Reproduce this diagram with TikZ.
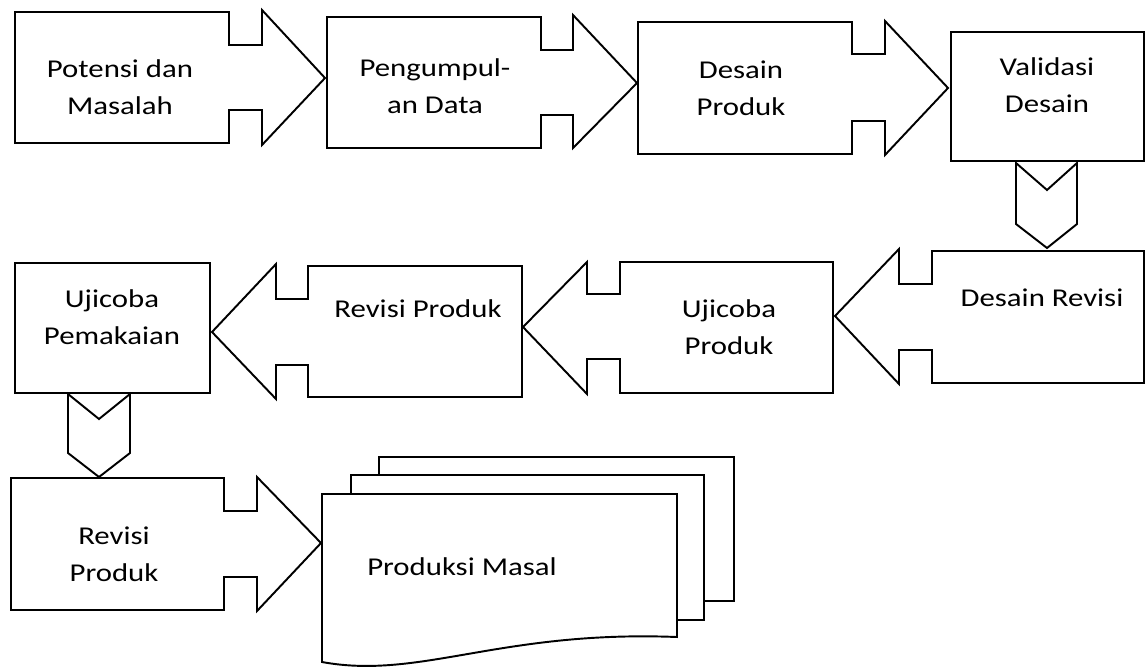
\documentclass[tikz,border=0pt]{standalone}
\usepackage{fontspec}
\setmainfont{Carlito}[FakeStretch=1.2]
\usepackage{tikz}

\tikzset{
  blk/.style={draw, line width=1.1pt, fill=white, line join=miter},
  lbl/.style={font=\fontsize{14.6}{21}\selectfont, align=center, inner sep=0pt}
}

\begin{document}
\begin{tikzpicture}[x=0.02cm, y=-0.02cm]
    \useasboundingbox (0,0) rectangle (1145,670);

    % top row
    \draw[blk] (15,12) -- (229,12) -- (229,45) -- (262,45) -- (262,10) -- (325,78)
        -- (262,145) -- (262,110) -- (229,110) -- (229,143) -- (15,143) -- cycle;
    \draw[blk] (327,17) -- (541,17) -- (541,50) -- (573,50) -- (573,15) -- (637,83)
        -- (573,148) -- (573,115) -- (541,115) -- (541,148) -- (327,148) -- cycle;
    \draw[blk] (638,22) -- (852,22) -- (852,54) -- (885,54) -- (885,21) -- (948,88)
        -- (885,155) -- (885,121) -- (852,121) -- (852,154) -- (638,154) -- cycle;
    \draw[blk] (951,32) rectangle (1144,161);

    \draw[blk] (1016,163) -- (1047,190) -- (1077,163) -- (1077,224) -- (1047,248) -- (1016,224) -- cycle;

    % middle row
    \draw[blk] (1144,251) -- (932,251) -- (932,284) -- (899,284) -- (899,249) -- (835,316)
        -- (899,384) -- (899,350) -- (932,350) -- (932,383) -- (1144,383) -- cycle;
    \draw[blk] (833,262) -- (620,262) -- (620,294) -- (587,294) -- (587,262) -- (523,327)
        -- (587,394) -- (587,359) -- (620,359) -- (620,393) -- (833,393) -- cycle;
    \draw[blk] (522,266) -- (308,266) -- (308,299) -- (276,299) -- (276,264) -- (212,332)
        -- (276,399) -- (276,365) -- (308,365) -- (308,397) -- (522,397) -- cycle;
    \draw[blk] (15,263) rectangle (210,393);

    \draw[blk] (68,394) -- (99,419) -- (130,394) -- (130,453) -- (99,477) -- (68,453) -- cycle;

    % bottom row
    \draw[blk] (11,478) -- (224,478) -- (224,511) -- (257,511) -- (257,477) -- (321,543)
        -- (257,611) -- (257,577) -- (224,577) -- (224,610) -- (11,610) -- cycle;
    \draw[blk] (379,457) rectangle (734,601);
    \draw[blk] (351,475) rectangle (704,620);
    \draw[blk] (322,494) -- (677,494) -- (677,637)
        .. controls (500,630) and (420,680) .. (322,662) -- cycle;

    \node[lbl] (potensi) at (120,87) {Potensi dan\\Masalah};
    \node[lbl] (data) at (435,86) {Pengumpul-\\an Data};
    \node[lbl] (desain) at (741,88) {Desain\\Produk};
    \node[lbl] (validasi) at (1047,85) {Validasi\\Desain};
    \node[lbl] (revdesain) at (1042,298) {Desain Revisi};
    \node[lbl] (ujiproduk) at (729,327) {Ujicoba\\Produk};
    \node[lbl] (revproduk) at (418,309) {Revisi Produk};
    \node[lbl] (pemakaian) at (112,317) {Ujicoba\\Pemakaian};
    \node[lbl] (revproduk2) at (114,554) {Revisi\\Produk};
    \node[lbl] (masal) at (462,567) {Produksi Masal};
\end{tikzpicture}
\end{document}
